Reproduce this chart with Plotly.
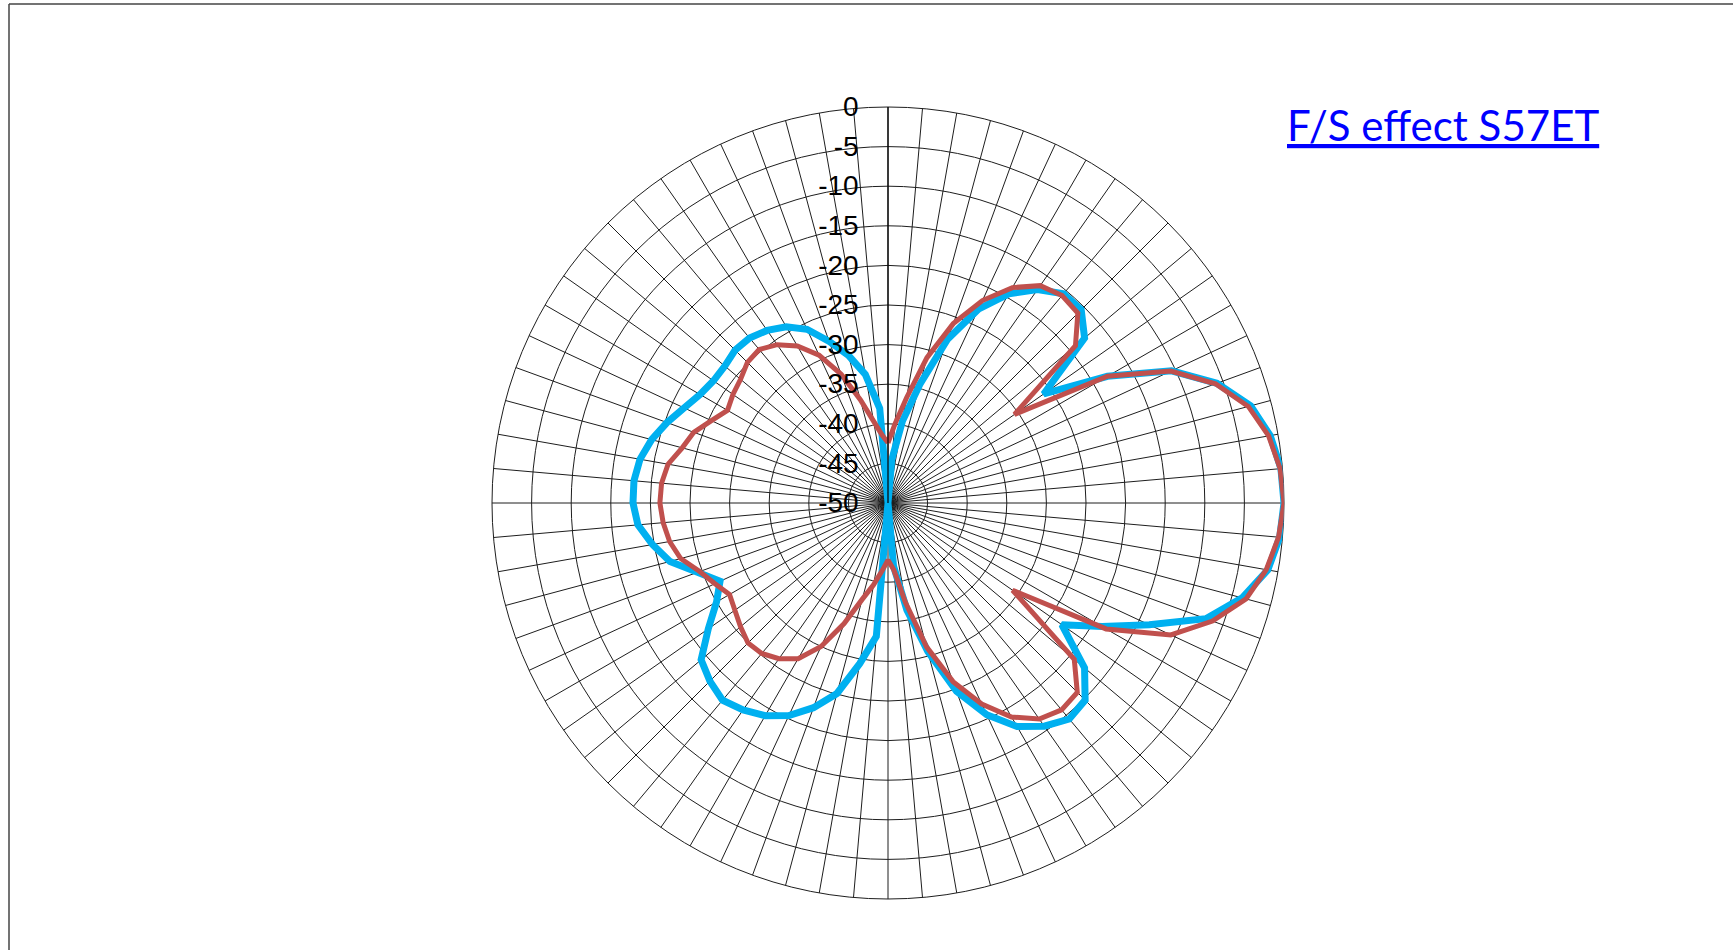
import plotly.graph_objects as go

# Angles (degrees, clockwise from top) - 72 categories, 5 deg apart
angles = list(range(0, 360, 5))

# Series values in dB
red_values = [
    -42.4, -40.0, -36.5, -31.0, -25.9, -21.8, -18.6, -16.5, -15.8, -16.1,
    -19.1, -30.5, -18.0, -10.6, -6.0, -2.9, -1.2, -0.3, 0.0, -0.5,
    -1.5, -3.2, -6.4, -10.6, -18.2, -30.8, -19.3, -16.2, -15.9, -16.7,
    -18.8, -22.0, -26.0, -31.2, -37.2, -41.5, -42.8, -41.4, -39.5, -37.4,
    -33.8, -30.0, -27.3, -26.0, -25.2, -25.0, -25.7, -26.4, -26.9, -25.9,
    -24.7, -22.9, -22.0, -21.5, -21.2, -21.3, -21.8, -23.1, -23.9, -25.4,
    -26.6, -26.1, -25.7, -24.9, -24.7, -25.6, -27.1, -29.4, -32.7, -36.5,
    -39.5, -41.4,
]
blue_values = [
    -50.0, -44.5, -39.5, -34.5, -28.0, -23.0, -19.5, -17.1, -15.5, -15.5,
    -17.6, -26.0, -18.0, -10.5, -5.8, -2.6, -1.0, -0.2, 0.0, -0.35,
    -1.3, -3.7, -7.3, -13.6, -18.8, -23.2, -17.6, -14.8, -14.4, -15.6,
    -17.4, -20.5, -24.7, -30.6, -36.3, -42.0, -50.0, -33.1, -29.4, -25.1,
    -22.5, -20.4, -19.0, -18.1, -17.5, -18.2, -19.2, -22.3, -25.0, -26.6,
    -24.4, -21.5, -19.8, -18.3, -17.8, -17.8, -18.2, -19.1, -20.3, -21.6,
    -22.6, -23.1, -23.1, -22.7, -22.8, -23.4, -24.3, -25.8, -28.3, -30.7,
    -33.5, -38.0,
]

title_text = "F/S effect S57ET"
radial_ticks = [-50, -45, -40, -35, -30, -25, -20, -15, -10, -5, 0]
radial_labels = ["-50", "-45", "-40", "-35", "-30", "-25", "-20", "-15", "-10", "-5", "0"]

W, H = 1733, 950
cx, cy, R = 888, 503, 396  # polar centre / radius in pixels

fig = go.Figure()

def closed(v):
    return list(v) + [v[0]]

fig.add_trace(go.Scatterpolar(
    r=closed(blue_values), theta=closed(angles), mode="lines",
    line=dict(color="#00B0F0", width=7), name="blue", showlegend=False,
    hoverinfo="skip",
))
fig.add_trace(go.Scatterpolar(
    r=closed(red_values), theta=closed(angles), mode="lines",
    line=dict(color="#C0504D", width=5), name="red", showlegend=False,
    hoverinfo="skip",
))

fig.update_layout(
    width=W, height=H,
    margin=dict(l=0, r=0, t=0, b=0),
    paper_bgcolor="white",
    showlegend=False,
    polar=dict(
        domain=dict(x=[(cx - R) / W, (cx + R) / W],
                    y=[(H - cy - R) / H, (H - cy + R) / H]),
        bgcolor="white",
        gridshape="circular",
        radialaxis=dict(
            range=[radial_ticks[0], radial_ticks[-1]],
            tickmode="array", tickvals=radial_ticks, ticktext=radial_labels,
            angle=90, side="counterclockwise",
            showline=True, linecolor="black", linewidth=1.2,
            gridcolor="#1e1e1e", gridwidth=1,
            ticks="outside", ticklen=19, tickcolor="rgba(0,0,0,0)",
            tickangle=90,
            tickfont=dict(family="Liberation Sans, Arial", size=28, color="black"),
            layer="above traces",
        ),
        angularaxis=dict(
            rotation=90, direction="clockwise",
            tickmode="linear", tick0=0, dtick=5,
            showticklabels=False, ticks="",
            gridcolor="#1e1e1e", gridwidth=0.9,
            showline=True, linecolor="#1e1e1e", linewidth=1,
            layer="below traces",
        ),
    ),
    annotations=[dict(
        text="<u>" + title_text + "</u>",
        xref="paper", yref="paper",
        x=1285 / W, y=1 - 125 / H, xanchor="left", yanchor="middle",
        showarrow=False,
        font=dict(family="Lato, Open Sans, sans-serif", size=42, color="#0000FF"),
    )],
    shapes=[
        dict(type="line", xref="paper", yref="paper",
             x0=9 / W, x1=1, y0=1 - 4 / H, y1=1 - 4 / H,
             line=dict(color="#444", width=1.5)),
        dict(type="line", xref="paper", yref="paper",
             x0=9 / W, x1=9 / W, y0=0, y1=1 - 4 / H,
             line=dict(color="#444", width=1.5)),
    ],
)

fig.write_html(
    "out.html",
    config={"displayModeBar": False},
    post_script="document.body.style.margin='0';document.body.style.overflow='hidden';",
)
